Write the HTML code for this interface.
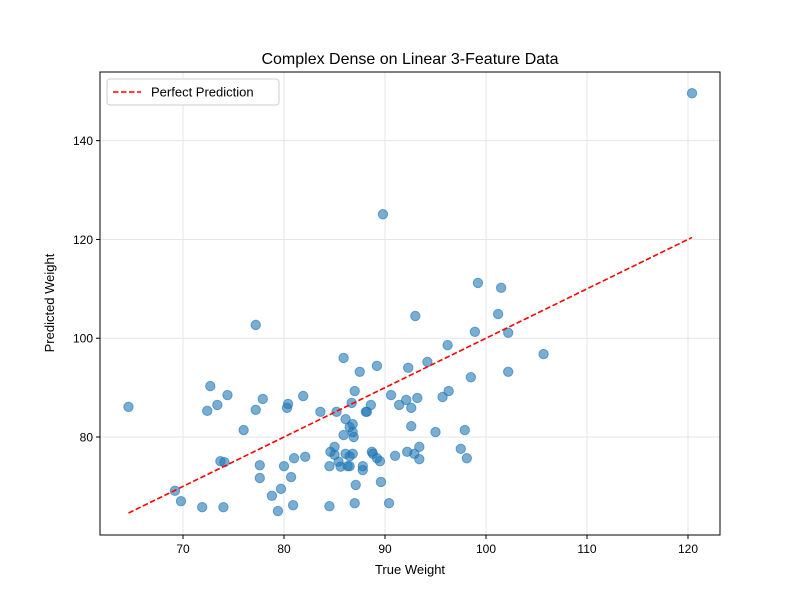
<!DOCTYPE html>
<html><head><meta charset="utf-8"><style>
body{margin:0;background:#fff}
svg{font-family:"Liberation Sans","DejaVu Sans",sans-serif}
</style></head><body>
<svg id="chart" width="800" height="600" xmlns="http://www.w3.org/2000/svg">
<rect width="800" height="600" fill="#fff"/>
<g id="grid"></g>
<g id="ticks"></g>
<g id="marks"></g>
<rect x="100" y="72" width="620" height="463" fill="none" stroke="#000" stroke-width="1"/>
<text x="410" y="64" text-anchor="middle" font-size="16">Complex Dense on Linear 3-Feature Data</text>
<text x="410" y="574" text-anchor="middle" font-size="13">True Weight</text>
<text x="54" y="303" text-anchor="middle" font-size="13" transform="rotate(-90 54 303)">Predicted Weight</text>
<g>
<rect x="107" y="79" width="172" height="26" rx="3" fill="#fff" stroke="#ccc"/>
<line x1="113" y1="92" x2="141" y2="92" stroke="red" stroke-width="1.5" stroke-dasharray="5.5,2.5"/>
<text x="151" y="96.5" font-size="13">Perfect Prediction</text>
</g>
</svg>
<script>
const xTicks=[70,80,90,100,110,120];
const yTicks=[80,100,120,140];
const trueW=[64.6,69.2,69.8,71.9,72.4,72.7,73.4,73.7,74.1,74.0,74.4,76.0,77.2,77.2,77.6,77.6,77.9,78.8,79.4,79.7,80.0,80.3,80.4,80.7,80.9,81.0,81.9,82.1,83.6,84.5,84.5,84.6,85.0,85.2,85.0,85.4,85.6,85.9,85.9,86.1,86.1,86.3,86.5,86.5,86.5,86.7,86.8,86.8,86.8,86.9,87.0,87.0,87.1,87.5,87.8,87.8,88.1,88.2,88.6,88.7,88.8,89.2,89.2,89.5,89.6,89.8,90.4,90.6,91.0,91.4,92.1,92.3,92.2,92.6,92.6,92.9,93.0,93.2,93.4,93.4,94.2,95.0,95.7,96.2,96.3,97.5,97.9,98.1,98.5,98.9,99.2,101.2,101.5,102.2,102.2,105.7,120.4];
const predW=[86.1,69.1,67.0,65.8,85.3,90.3,86.5,75.1,74.9,65.8,88.5,81.4,85.5,102.7,74.3,71.7,87.7,68.1,65.0,69.5,74.1,85.9,86.7,71.9,66.2,75.7,88.3,76.0,85.1,66.0,74.1,77.0,78.0,85.1,76.4,75.0,74.0,96.0,80.4,83.6,76.6,74.1,82.0,76.1,74.1,86.9,76.6,82.6,81.0,80.0,89.3,66.6,70.3,93.2,74.1,73.3,85.1,85.1,86.5,77.0,76.6,94.4,75.7,75.1,70.9,125.1,66.6,88.5,76.2,86.5,87.5,94.0,77.0,85.9,82.2,76.6,104.5,87.9,75.5,78.0,95.2,81.0,88.1,98.6,89.3,77.6,81.4,75.7,92.1,101.3,111.2,104.9,110.2,101.1,93.2,96.8,149.6];
const lineRange=[64.6,120.4];
const X0=100,X1=720,Y0=535,Y1=72,xmin=61.78,xmax=123.17,ymin=60.16,ymax=153.9;
const sx=v=>X0+(v-xmin)/(xmax-xmin)*(X1-X0);
const sy=v=>Y0-(v-ymin)/(ymax-ymin)*(Y0-Y1);
const NS="http://www.w3.org/2000/svg";
function mk(tag,attrs,parent){const e=document.createElementNS(NS,tag);for(const k in attrs)e.setAttribute(k,attrs[k]);parent.appendChild(e);return e;}
const grid=document.getElementById('grid'),ticks=document.getElementById('ticks'),marks=document.getElementById('marks');
xTicks.forEach(t=>{const x=sx(t);
const g=mk('line',{x1:x,x2:x,y1:Y1,y2:Y0,stroke:'#e5e5e5','stroke-width':1},grid);


const tk=mk('line',{x1:x,x2:x,y1:Y0,y2:Y0+4,stroke:'#000'},ticks);


const tx=mk('text',{x:x,y:Y0+18,'text-anchor':'middle','font-size':12},ticks);tx.textContent=t;

});
yTicks.forEach(t=>{const y=sy(t);
const g=mk('line',{x1:X0,x2:X1,y1:y,y2:y,stroke:'#e5e5e5','stroke-width':1},grid);


const tk=mk('line',{x1:X0-4,x2:X0,y1:y,y2:y,stroke:'#000'},ticks);


const tx=mk('text',{x:X0-7,y:y+4.5,'text-anchor':'end','font-size':12},ticks);tx.textContent=t;

});
trueW.forEach((v,i)=>{const c=mk('circle',{cx:sx(v),cy:sy(predW[i]),r:4.7,fill:'#1f77b4','fill-opacity':0.6,stroke:'#1f77b4','stroke-opacity':0.6,'stroke-width':1},marks);

});
const l=mk('line',{x1:sx(lineRange[0]),y1:sy(lineRange[0]),x2:sx(lineRange[1]),y2:sy(lineRange[1]),stroke:'red','stroke-width':1.6,'stroke-dasharray':'5.5,2.5'},marks);


</script>
</body></html>
